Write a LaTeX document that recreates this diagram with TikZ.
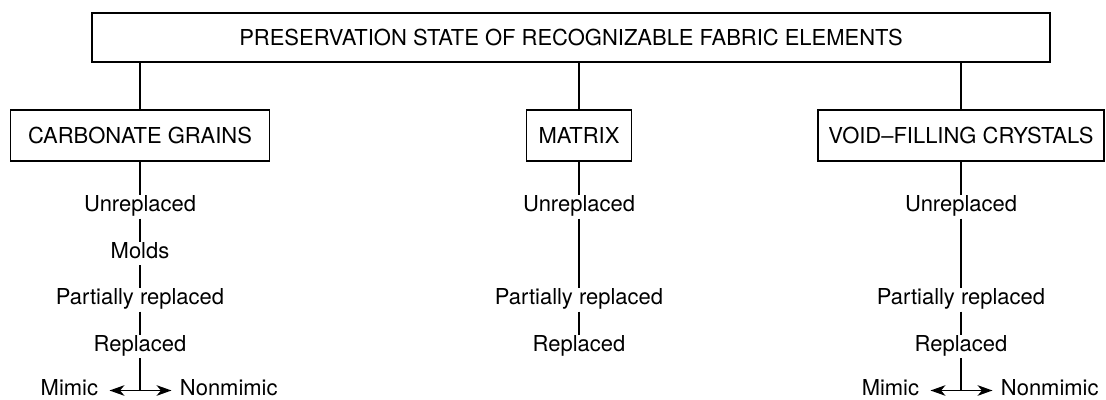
\documentclass[tikz,border=0pt]{standalone}
\usepackage{fontspec}
\setmainfont{TeX Gyre Heros}
\usetikzlibrary{arrows.meta,positioning}

\begin{document}
\begin{tikzpicture}[node distance=0.93cm,on grid,line width=0.9pt,
    every node/.style={font=\fontsize{12.5}{14}\selectfont},
    >={Stealth[length=8.5pt,width=6pt,inset=2.5pt]},
    stage/.style={inner sep=1.5pt,text height=1.4ex,text depth=.4ex}]
  \useasboundingbox (0,0) rectangle (22.12,-8);
  \node[draw,minimum width=19.16cm,minimum height=0.98cm] (top) at (11.42,-0.75) {PRESERVATION STATE OF RECOGNIZABLE FABRIC ELEMENTS};
  \node[draw,minimum width=5.18cm,minimum height=1.02cm] (carb) at (2.8,-2.71) {CARBONATE GRAINS};
  \node[draw,minimum width=2.1cm,minimum height=1.02cm] (matx) at (11.58,-2.71) {MATRIX};
  \node[draw,minimum width=5.72cm,minimum height=1.02cm] (void) at (19.22,-2.71) {VOID--FILLING CRYSTALS};
  \draw (carb.north) -- (carb.north |- top.south);
  \draw (matx.north) -- (matx.north |- top.south);
  \draw (void.north) -- (void.north |- top.south);
  % carbonate grains
  \node[stage,below=1.43cm of carb] (unr1) {Unreplaced};
  \node[stage,below=of unr1] (mold1) {Molds};
  \node[stage,below=of mold1] (part1) {Partially replaced};
  \node[stage,below=of part1] (rep1) {Replaced};
  \coordinate[below=0.88cm of rep1] (fork1);
  \node[stage,left=0.77cm of fork1,anchor=east] (mim1) {Mimic};
  \node[stage,right=0.73cm of fork1,anchor=west] (non1) {Nonmimic};
  \draw (carb) -- (unr1); \draw (unr1) -- (mold1); \draw (mold1) -- (part1); \draw (part1) -- (rep1); \draw (rep1) -- (fork1);
  \draw[->,shorten >=0.16cm] (fork1) -- (mim1); \draw[->,shorten >=0.1cm] (fork1) -- (non1);
  % matrix
  \node[stage,below=1.43cm of matx] (unr2) {Unreplaced};
  \node[stage,below=1.86cm of unr2] (part2) {Partially replaced};
  \node[stage,below=of part2] (rep2) {Replaced};
  \draw (matx) -- (unr2); \draw (unr2) -- (part2); \draw (part2) -- (rep2);
  % void-filling crystals
  \node[stage,below=1.43cm of void] (unr3) {Unreplaced};
  \node[stage,below=1.86cm of unr3] (part3) {Partially replaced};
  \node[stage,below=of part3] (rep3) {Replaced};
  \coordinate[below=0.88cm of rep3] (fork3);
  \node[stage,left=0.77cm of fork3,anchor=east] (mim3) {Mimic};
  \node[stage,right=0.73cm of fork3,anchor=west] (non3) {Nonmimic};
  \draw (void) -- (unr3); \draw (unr3) -- (part3); \draw (part3) -- (rep3); \draw (rep3) -- (fork3);
  \draw[->,shorten >=0.16cm] (fork3) -- (mim3); \draw[->,shorten >=0.1cm] (fork3) -- (non3);
\end{tikzpicture}
\end{document}
